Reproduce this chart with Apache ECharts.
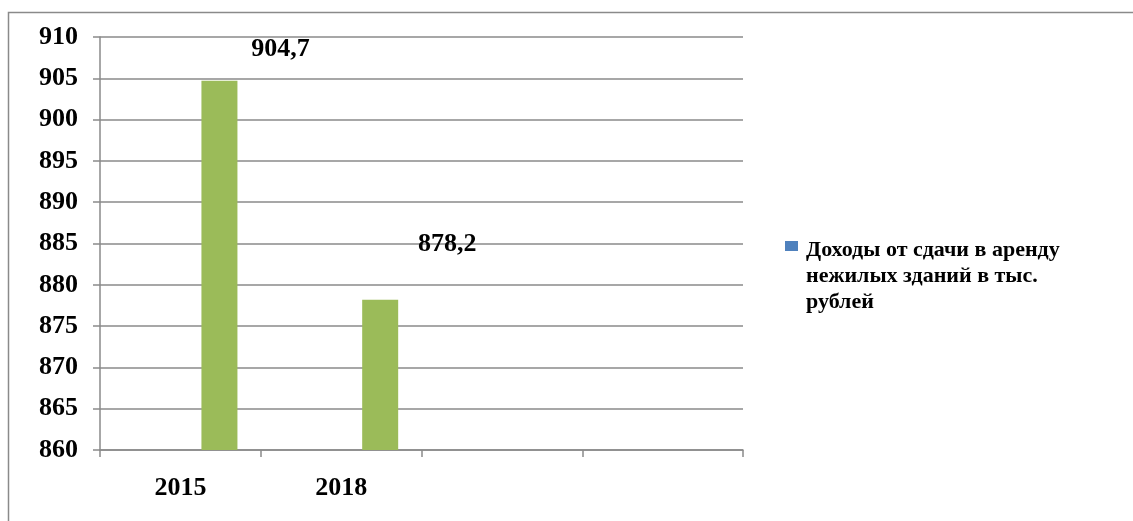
<!DOCTYPE html>
<html>
<head>
<meta charset="utf-8">
<script src="https://cdn.jsdelivr.net/npm/echarts@6/dist/echarts.min.js"></script>
<style>html,body{margin:0;padding:0;background:#fff}#c{width:1133px;height:521px}</style>
</head>
<body>
<div id="c"></div>
<script>
const categories = ['2015', '2018', '', ''];
const seriesName = 'Доходы от сдачи в аренду\nнежилых зданий в тыс.\nрублей';
const legendSeriesValues = [null, null, null, null];
const incomeValues = [904.7, 878.2, null, null];
const labelTexts = ['904,7', '878,2', '', ''];
const labelOffsets = [[61, -13], [67, -37], [0, 0], [0, 0]];
const yMin = 860, yMax = 910, yStep = 5;

const serif = '"Liberation Serif", "DejaVu Serif", serif';
const chart = echarts.init(document.getElementById('c'), null, {renderer: 'canvas'});
chart.setOption({
  animation: false,
  backgroundColor: '#fff',
  graphic: [{
    type: 'rect', silent: true, z: -1,
    shape: {x: 8.5, y: 12.5, width: 1140, height: 530},
    style: {fill: 'none', stroke: '#8a8a8a', lineWidth: 1.5}
  }],
  grid: {left: 100, right: 390, top: 37, bottom: 71, containLabel: false},
  legend: {
    data: [{name: seriesName, icon: 'path://M0 0H13V10H0Z M6 70L6 70.01'}],
    orient: 'vertical',
    left: 785, top: 237, padding: 0,
    itemWidth: 13, itemHeight: 70, itemGap: 0,
    itemStyle: {borderWidth: 0},
    textStyle: {fontFamily: serif, fontWeight: 'bold', fontSize: 22, color: '#000', lineHeight: 26, padding: [0, 0, 0, 3]}
  },
  xAxis: {
    type: 'category',
    data: categories,
    axisLine: {lineStyle: {color: '#8a8a8a', width: 1.5}},
    axisTick: {show: true, length: 7, lineStyle: {color: '#8a8a8a', width: 1.5}},
    axisLabel: {fontFamily: serif, fontWeight: 'bold', fontSize: 26, color: '#000', margin: 25}
  },
  yAxis: {
    type: 'value', min: yMin, max: yMax, interval: yStep,
    axisLine: {show: true, lineStyle: {color: '#8a8a8a', width: 1.5}},
    axisTick: {show: true, length: 7, lineStyle: {color: '#8a8a8a', width: 1.5}},
    splitLine: {lineStyle: {color: '#8a8a8a', width: 1.5}},
    axisLabel: {fontFamily: serif, fontWeight: 'bold', fontSize: 26, color: '#000', margin: 22}
  },
  series: [
    {
      name: seriesName, type: 'bar', data: legendSeriesValues,
      itemStyle: {color: '#4f81bd'}, barWidth: 36, barGap: '117%'
    },
    {
      name: 'values', type: 'bar',
      data: incomeValues.map((v, i) => ({
        value: v,
        label: {offset: labelOffsets[i]}
      })),
      itemStyle: {color: '#9bbb59'}, barWidth: 36, barGap: '117%',
      label: {
        show: true, position: 'top',
        formatter: p => labelTexts[p.dataIndex],
        fontFamily: serif, fontWeight: 'bold', fontSize: 26, color: '#000'
      }
    }
  ]
});
</script>
</body>
</html>
